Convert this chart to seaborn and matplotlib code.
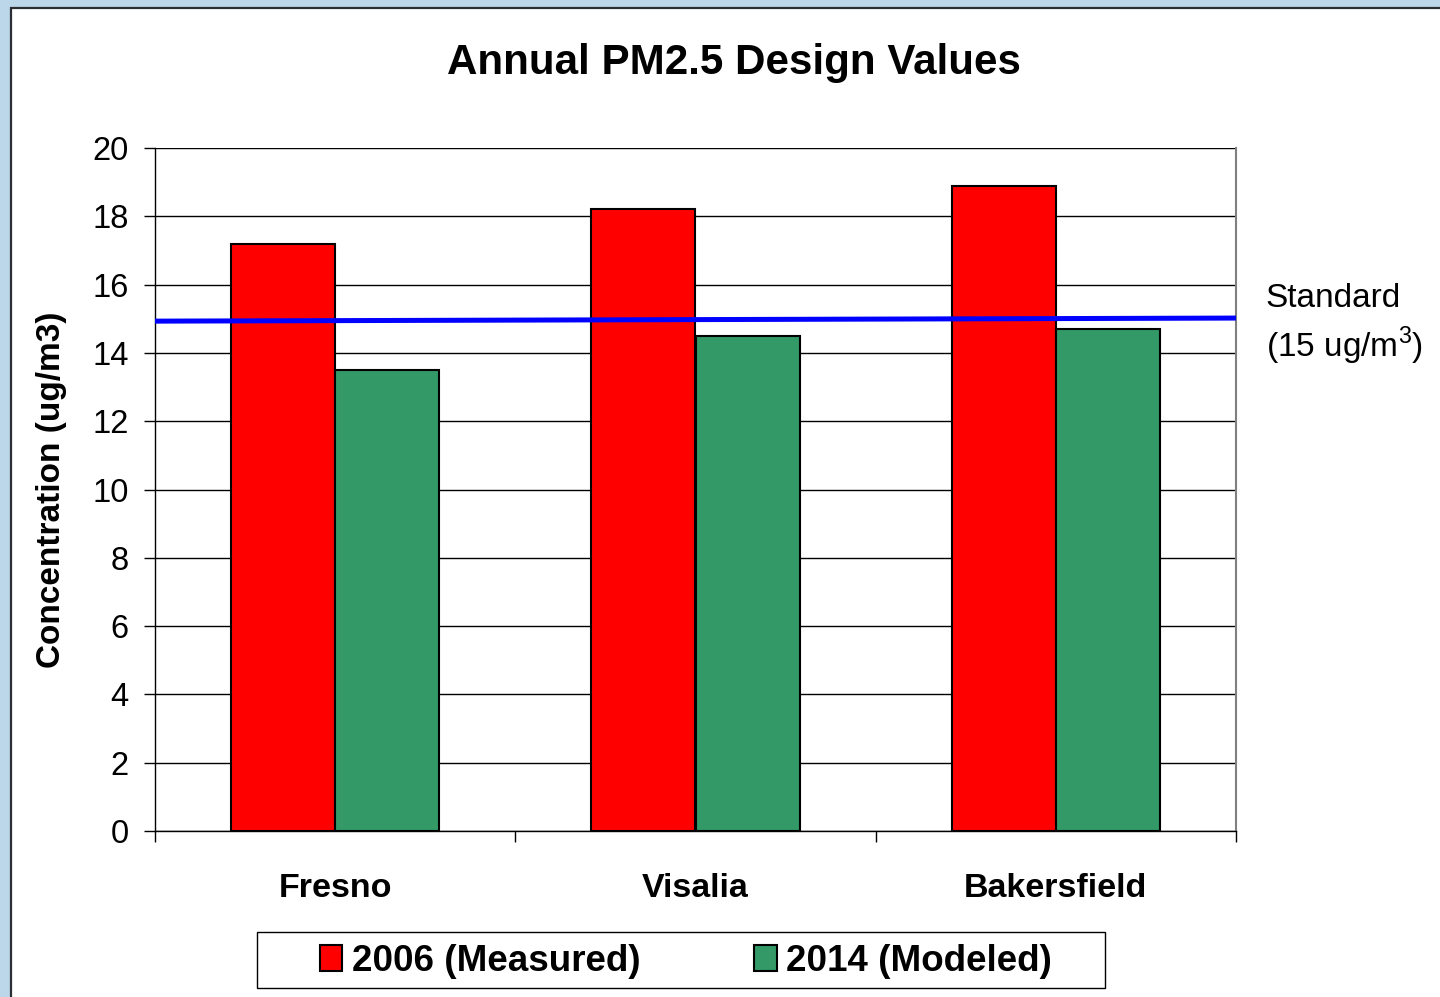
import numpy as np
import pandas as pd
import matplotlib
matplotlib.use("Agg")
import matplotlib.pyplot as plt
from matplotlib.patches import Rectangle
import seaborn as sns

sites = ["Fresno", "Visalia", "Bakersfield"]
measured_2006 = [17.2, 18.2, 18.9]
modeled_2014 = [13.5, 14.5, 14.7]
series_names = ["2006 (Measured)", "2014 (Modeled)"]
standard_line = [14.93, 15.02]  # hand-drawn line, slightly tilted
yticks = list(range(0, 21, 2))

sns.set_style("white")
plt.rcParams["font.family"] = ["Liberation Sans", "DejaVu Sans"]
plt.rcParams["mathtext.fontset"] = "custom"
plt.rcParams["mathtext.rm"] = "Liberation Sans"
for k in ["text.color", "axes.labelcolor", "xtick.color", "ytick.color"]:
    plt.rcParams[k] = "black"

df = pd.DataFrame({
    "site": sites * 2,
    "value": measured_2006 + modeled_2014,
    "series": [series_names[0]] * 3 + [series_names[1]] * 3,
})

fig = plt.figure(figsize=(14.4, 9.97), dpi=100)
fig.patch.set_facecolor("#bcd7ea")
fig.patches.append(Rectangle((11 / 1440, -0.02), 1.0, 1 - 8 / 997 + 0.02,
                             transform=fig.transFigure, facecolor="white",
                             edgecolor="#2b2f33", linewidth=1.6, zorder=-10))
# legend box
fig.patches.append(Rectangle((257 / 1440, 1 - 988 / 997), 848 / 1440, 56 / 997,
                             transform=fig.transFigure, facecolor="white",
                             edgecolor="black", linewidth=1.0, zorder=-5))

ax = fig.add_axes([155 / 1440, 1 - 831 / 997, 1081 / 1440, 683 / 997])
ax.set_facecolor("white")
ax.set_axisbelow(True)

sns.barplot(data=df, x="site", y="value", hue="series", ax=ax,
            palette=["#ff0000", "#339966"], saturation=1, width=0.578, gap=0,
            edgecolor="black", linewidth=1.5, errorbar=None, legend=False)

ax.plot([-0.5, 2.5], standard_line, color="#0000ff", lw=3.6, zorder=5,
        solid_capstyle="butt", clip_on=False)

ax.set_xlim(-0.5, 2.5)
ax.set_ylim(0, 20)
ax.set_yticks(yticks)
ax.yaxis.grid(True, color="black", lw=1.0)
ax.xaxis.grid(False)

for s in ["left", "bottom"]:
    ax.spines[s].set_color("black")
    ax.spines[s].set_linewidth(1.0)
ax.spines["right"].set_color("#808080")
ax.spines["right"].set_linewidth(1.5)
ax.spines["top"].set_visible(False)

ax.tick_params(axis="y", direction="out", length=8, width=1, color="black",
               labelsize=23.5, pad=11, left=True)
ax.set_xticks([0, 1, 2])
ax.set_xticklabels(sites, fontsize=24.5, fontweight="bold")
ax.tick_params(axis="x", which="major", length=0, pad=30)
ax.set_xticks([-0.5, 0.5, 1.5, 2.5], minor=True)
ax.tick_params(axis="x", which="minor", direction="out", length=8, width=1,
               color="black", bottom=True)

ax.set_xlabel("")
ax.set_ylabel("Concentration (ug/m3)", fontsize=24, fontweight="bold")
ax.yaxis.set_label_coords(-0.081, 0.5)

ax.text(2.583, 15.6, "Standard", fontsize=24, va="center", ha="left",
        clip_on=False)
ax.text(2.583, 14.2, r"(15 ug/m$^3$)", fontsize=24, va="center", ha="left",
        clip_on=False)

fig.text(0.51, 1 - 63 / 997, "Annual PM2.5 Design Values", fontsize=30.3,
         fontweight="bold", ha="center", va="center")

handles = [Rectangle((0, 0), 1, 1, facecolor=c, edgecolor="black", lw=1.5)
           for c in ["#ff0000", "#339966"]]
leg = fig.legend(handles, series_names, loc="center",
                 bbox_to_anchor=(686 / 1440, 1 - 961 / 997), ncol=2,
                 prop={"size": 26.5, "weight": "bold"}, frameon=False,
                 handlelength=0.6, handleheight=0.7, handletextpad=0.25,
                 columnspacing=3.1, borderpad=0, borderaxespad=0)

fig.savefig("out.png", dpi=100, facecolor=fig.get_facecolor())
